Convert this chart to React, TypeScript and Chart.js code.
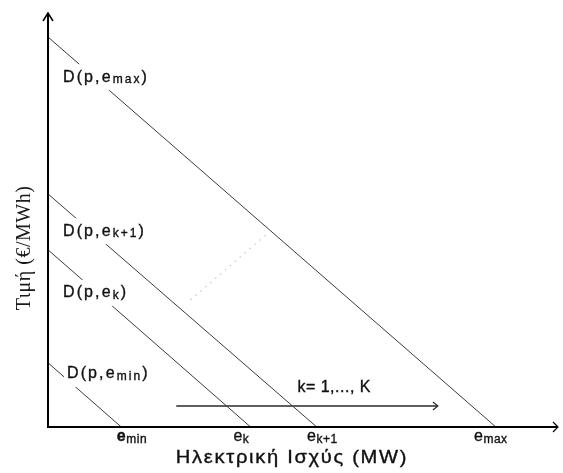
import React, { useEffect, useRef } from "react";
import { Chart, registerables } from "chart.js";

Chart.register(...registerables);

// Demand curves D(p, e) : price-axis intercepts and power-axis intercepts (schematic units 0..100)
const curveSubs = ["max", "k+1", "k", "min"];
const curveYIntercepts = [94.2, 56.3, 42.8, 15.5];
const curveXIntercepts = [88.0, 52.8, 39.8, 14.4];
const curveLabelX = [2.95, 2.95, 2.95, 3.74];
const curveLabelY = [84.5, 47.3, 32.4, 12.8];

// x-axis tick labels e_min, e_k, e_k+1, e_max
const tickSubs = ["min", "k", "k+1", "max"];
const tickPositions = [16.5, 38.0, 53.9, 87.0];

// arrow k = 1,...,K
const arrowX = [25.2, 76.6];
const arrowY = [5.07, 5.07];
const arrowLabel = "k= 1,..., K";
const arrowLabelPos = [49.0, 9.6];

// faint dotted guide
const dotX = [28.0, 43.3];
const dotY = [30.7, 46.9];

const xTitle = "Ηλεκτρική Ισχύς (MW)";
const yTitle = "Τιμή (€/MWh)";

type Part = { t: string; size: number; sub?: boolean; bold?: boolean };

const SANS = '"Liberation Sans", Arial, sans-serif';

function drawRich(
  ctx: CanvasRenderingContext2D,
  parts: Part[],
  x: number,
  y: number,
  align: "left" | "center",
  spacing: string,
  bg: boolean
) {
  ctx.save();
  ctx.letterSpacing = spacing;
  ctx.textBaseline = "middle";
  ctx.textAlign = "left";
  const widths = parts.map((p) => {
    ctx.font = `${p.bold ? "bold " : ""}${p.size}px ${SANS}`;
    return ctx.measureText(p.t).width;
  });
  const total = widths.reduce((a, b) => a + b, 0);
  let cx = align === "left" ? x : x - total / 2;
  if (bg) {
    ctx.fillStyle = "#ffffff";
    ctx.fillRect(cx - 3, y - 13, total + 6, 26);
  }
  ctx.fillStyle = "#111111";
  ctx.strokeStyle = "#111111";
  ctx.lineWidth = 0.35;
  parts.forEach((p, i) => {
    ctx.font = `${p.bold ? "bold " : ""}${p.size}px ${SANS}`;
    const yy = p.sub ? y + 3 : y;
    ctx.fillText(p.t, cx, yy);
    ctx.strokeText(p.t, cx, yy);
    cx += widths[i];
  });
  ctx.restore();
}

const annotations = {
  id: "annotations",
  afterDatasetsDraw(chart: any) {
    const ctx: CanvasRenderingContext2D = chart.ctx;
    const xs = chart.scales.x;
    const ys = chart.scales.y;
    const area = chart.chartArea;

    // curve labels with white background interrupting the lines
    curveSubs.forEach((s, i) => {
      drawRich(
        ctx,
        [
          { t: "D(p,e", size: 16 },
          { t: s, size: 12, sub: true },
          { t: ")", size: 16 },
        ],
        xs.getPixelForValue(curveLabelX[i]),
        ys.getPixelForValue(curveLabelY[i]),
        "left",
        "2.1px",
        true
      );
    });

    // arrow head for k = 1..K
    const ax = xs.getPixelForValue(arrowX[1]);
    const ay = ys.getPixelForValue(arrowY[1]);
    ctx.save();
    ctx.strokeStyle = "#2a2a2a";
    ctx.lineWidth = 1.2;
    ctx.beginPath();
    ctx.moveTo(ax - 5, ay - 4);
    ctx.lineTo(ax, ay);
    ctx.lineTo(ax - 5, ay + 4);
    ctx.stroke();
    ctx.restore();
    drawRich(
      ctx,
      [{ t: arrowLabel, size: 16 }],
      xs.getPixelForValue(arrowLabelPos[0]),
      ys.getPixelForValue(arrowLabelPos[1]),
      "left",
      "0.5px",
      false
    );

    // axes with arrows
    ctx.save();
    ctx.strokeStyle = "#000";
    ctx.lineWidth = 2;
    ctx.beginPath();
    ctx.moveTo(area.left, area.top + 1);
    ctx.lineTo(area.left, area.bottom);
    ctx.lineTo(area.right, area.bottom);
    ctx.stroke();
    ctx.lineWidth = 1.5;
    ctx.beginPath();
    ctx.moveTo(area.left - 5, area.top + 8);
    ctx.lineTo(area.left, area.top);
    ctx.lineTo(area.left + 5, area.top + 8);
    ctx.stroke();
    ctx.lineWidth = 1.2;
    ctx.beginPath();
    ctx.moveTo(area.right - 4, area.bottom - 5);
    ctx.lineTo(area.right + 1, area.bottom);
    ctx.lineTo(area.right - 4, area.bottom + 5);
    ctx.stroke();
    ctx.restore();

    // x tick labels
    tickSubs.forEach((s, i) => {
      drawRich(
        ctx,
        [
          { t: "e", size: 16, bold: s === "min" },
          { t: s, size: 12, sub: true },
        ],
        xs.getPixelForValue(tickPositions[i]),
        area.bottom + 10,
        "center",
        "0.5px",
        false
      );
    });

    // x axis title (slightly widened like the reference)
    ctx.save();
    ctx.fillStyle = "#111111";
    ctx.strokeStyle = "#111111";
    ctx.lineWidth = 0.35;
    ctx.textAlign = "center";
    ctx.textBaseline = "middle";
    ctx.font = `18px ${SANS}`;
    ctx.letterSpacing = "1.5px";
    ctx.translate(292, area.bottom + 31);
    ctx.scale(1.12, 1);
    ctx.fillText(xTitle, 0, 0);
    ctx.strokeText(xTitle, 0, 0);
    ctx.restore();

    // y axis title
    ctx.save();
    ctx.fillStyle = "#1a1a1a";
    ctx.textAlign = "center";
    ctx.textBaseline = "middle";
    ctx.font = '20px "Liberation Serif", "Times New Roman", serif';
    ctx.letterSpacing = "0.5px";
    ctx.translate(25, 248);
    ctx.rotate(-Math.PI / 2);
    ctx.fillText(yTitle, 0, 0);
    ctx.restore();
  },
};

export default function App() {
  const ref = useRef<HTMLCanvasElement | null>(null);
  useEffect(() => {
    if (!ref.current) return;
    const datasets: any[] = curveSubs.map((s, i) => ({
      label: "D(p,e_" + s + ")",
      data: [
        { x: 0, y: curveYIntercepts[i] },
        { x: curveXIntercepts[i], y: 0 },
      ],
      showLine: true,
      borderColor: "#3a3a3a",
      borderWidth: 1,
      pointRadius: 0,
      clip: false,
    }));
    datasets.push({
      label: "guide",
      data: [
        { x: dotX[0], y: dotY[0] },
        { x: dotX[1], y: dotY[1] },
      ],
      showLine: true,
      borderColor: "#d0d0d0",
      borderWidth: 1.5,
      borderDash: [1.5, 5],
      pointRadius: 0,
    });
    datasets.push({
      label: "k",
      data: [
        { x: arrowX[0], y: arrowY[0] },
        { x: arrowX[1], y: arrowY[1] },
      ],
      showLine: true,
      borderColor: "#2a2a2a",
      borderWidth: 1.3,
      pointRadius: 0,
    });
    const chart = new Chart(ref.current, {
      type: "scatter",
      data: { datasets },
      options: {
        animation: false,
        responsive: false,
        layout: { padding: { left: 48, right: 6, top: 13, bottom: 46 } },
        scales: {
          x: { type: "linear", min: 0, max: 100, display: false },
          y: { type: "linear", min: 0, max: 100, display: false },
        },
        plugins: { legend: { display: false }, tooltip: { enabled: false } },
      },
      plugins: [annotations],
    });
    return () => chart.destroy();
  }, []);
  return (
    <div style={{ position: "fixed", left: 0, top: 0, width: 563, height: 473, background: "#fff" }}>
      <canvas ref={ref} width={563} height={473} />
    </div>
  );
}
